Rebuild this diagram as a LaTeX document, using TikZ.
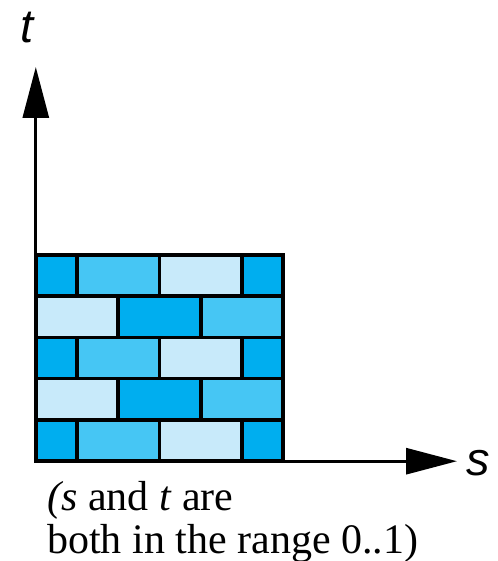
\documentclass[tikz,border=0pt]{standalone}
\usepackage{fontspec}
\setmainfont{Liberation Serif}
\setsansfont{Liberation Sans}
\usetikzlibrary{arrows.meta}
\definecolor{brickdark}{RGB}{0,174,239}
\definecolor{brickmid}{RGB}{70,198,244}
\definecolor{bricklight}{RGB}{200,234,250}

\begin{document}
\begin{tikzpicture}[x=1pt,y=-1pt,
		brick/.style={draw=black,line width=3.6pt},
		axis/.style={line width=3pt,-{Triangle[length=51pt,width=26pt]}},
		axislabel/.style={font=\fontsize{47}{47}\selectfont\sffamily\itshape,inner sep=0pt}]
			\useasboundingbox (0,0) rectangle (497,561);
			% the brick wall, 5 rows of 3 bricks
			\foreach \r in {0,...,4}{
				\pgfmathsetmacro{\ytop}{254.8+41.28*\r}
				\ifodd\r\relax
					\foreach \a/\b/\c in {0/1/bricklight,1/2/brickdark,2/3/brickmid}
						\filldraw[brick,fill=\c] ({35.8+82.467*\a},\ytop) rectangle ({35.8+82.467*\b},{\ytop+41.28});
				\else
					\foreach \a/\b/\c in {0/0.5/brickdark,0.5/1.5/brickmid,1.5/2.5/bricklight,2.5/3/brickdark}
						\filldraw[brick,fill=\c] ({35.8+82.467*\a},\ytop) rectangle ({35.8+82.467*\b},{\ytop+41.28});
				\fi
			}
			% axes
			\coordinate (origin) at (35.8,461.2);
			\coordinate (tend) at (35.8,67);
			\coordinate (send) at (457,461.2);
			\draw[axis] (origin) -- (tend);
			\draw[axis] (origin) -- (send);
			\node[axislabel,anchor=base west] (tlabel) at (20,43) {t};
			\node[axislabel,anchor=base west] (slabel) at (466,475) {s};
			% the range note
			\node[anchor=base west,align=left,inner sep=0pt,font=\fontsize{42}{43}\selectfont] (note) at (47,553)
				{\textit{(s} and \textit{t} are\\both in the range 0..1)};
		\end{tikzpicture}
\end{document}
